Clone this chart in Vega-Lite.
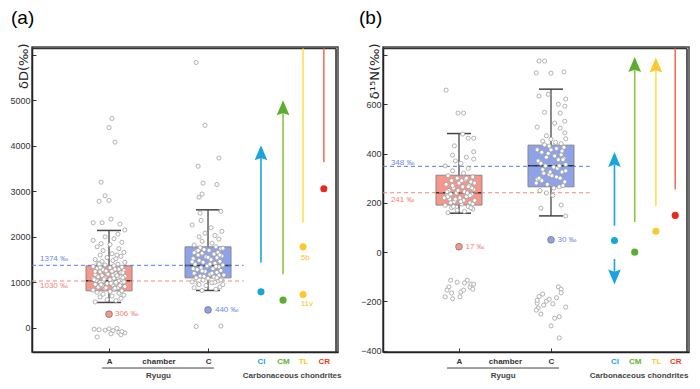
{
"$schema":"https://vega.github.io/schema/vega-lite/v6.json",
"padding":{"left":9,"top":8,"right":5,"bottom":5},
"spacing":15,
"config":{"view":{"stroke":"#444","strokeWidth":1.5},"style":{"cell":{"stroke":"#444","strokeWidth":1.5}}},
"datasets":{
"boxA":[{"g":"A","x":1,"lo":558,"q1":813,"med":1033,"q3":1363,"hi":2140},{"g":"C","x":2,"lo":822,"q1":1099,"med":1371,"q3":1780,"hi":2593}],
"meanA":[{"g":"A","v":1030},{"g":"C","v":1374}],
"specA":[{"g":"A","x":1,"y":301},{"g":"C","x":2,"y":395}],
"annA":[{"g":"C","x":0.303,"y":1519,"t":"1374 ‰"},{"g":"A","x":0.303,"y":920,"t":"1030 ‰"},{"g":"A","x":1.06,"y":304,"t":"306 ‰"},{"g":"C","x":2.07,"y":392,"t":"440 ‰"},{"g":"TL","x":2.936,"y":1535,"t":"5b"},{"g":"TL","x":2.936,"y":524,"t":"11v"}],
"carbA":[{"k":"CI","x":2.535,"lo":1437,"hi":3731},{"k":"CM","x":2.758,"lo":1180,"hi":4721},{"k":"TL","x":2.96,"lo":2316,"hi":6137},{"k":"CR","x":3.17,"lo":3640,"hi":6137}],
"headA":[{"k":"CI","x":2.535,"y":3731,"dir":"up"},{"k":"CM","x":2.758,"y":4721,"dir":"up"}],
"dotA":[{"k":"CI","x":2.535,"y":791},{"k":"CM","x":2.758,"y":609},{"k":"TL","x":2.96,"y":1780},{"k":"TL","x":2.96,"y":734},{"k":"CR","x":3.17,"y":3055}],
"botA":[{"x":1.5,"y":-1057,"t":"Ryugu"},{"x":2.85,"y":-1057,"t":"Carbonaceous chondrites"}],
"lineA":[{"x":0.93,"x2":2.06,"y":-882}],
"topA":[{"x":0.222,"x2":3.293,"y":6137}],
"rightA":[{"x":3.293,"y":-530,"y2":6137}],
"ptsA":[
{"x":0.86,"y":570},{"x":1.07,"y":600},{"x":0.98,"y":620},{"x":1.12,"y":650},{"x":0.91,"y":680},{"x":1.03,"y":700},{"x":1.15,"y":720},{"x":0.94,"y":740},{"x":1.10,"y":760},{"x":0.88,"y":780},
{"x":1.01,"y":800},{"x":1.13,"y":815},{"x":0.84,"y":830},{"x":1.05,"y":850},{"x":0.96,"y":860},{"x":1.09,"y":880},{"x":0.89,"y":895},{"x":1.16,"y":910},{"x":0.93,"y":925},{"x":1.04,"y":940},
{"x":0.86,"y":955},{"x":1.07,"y":965},{"x":0.98,"y":975},{"x":1.12,"y":990},{"x":0.91,"y":1000},{"x":1.03,"y":1010},{"x":1.15,"y":1020},{"x":0.94,"y":1030},{"x":1.10,"y":1040},{"x":0.88,"y":1050},
{"x":1.01,"y":1060},{"x":1.13,"y":1070},{"x":0.84,"y":1080},{"x":1.05,"y":1090},{"x":0.96,"y":1100},{"x":1.09,"y":1110},{"x":0.89,"y":1120},{"x":1.16,"y":1135},{"x":0.93,"y":1150},{"x":1.04,"y":1160},
{"x":0.86,"y":1175},{"x":1.07,"y":1190},{"x":0.98,"y":1200},{"x":1.12,"y":1215},{"x":0.91,"y":1230},{"x":1.03,"y":1245},{"x":1.15,"y":1260},{"x":0.94,"y":1275},{"x":1.10,"y":1290},{"x":0.88,"y":1305},
{"x":1.01,"y":1320},{"x":1.13,"y":1335},{"x":0.84,"y":1350},{"x":1.05,"y":1365},{"x":0.96,"y":1380},{"x":1.09,"y":1400},{"x":0.89,"y":1420},{"x":1.16,"y":1440},{"x":0.93,"y":1460},{"x":1.04,"y":1480},
{"x":0.86,"y":1500},{"x":1.07,"y":1520},{"x":0.98,"y":1545},{"x":1.12,"y":1570},{"x":0.91,"y":1600},{"x":1.03,"y":1630},{"x":1.15,"y":1660},{"x":0.94,"y":1700},{"x":1.10,"y":1740},{"x":0.88,"y":1780},
{"x":1.01,"y":1830},{"x":1.13,"y":1880},{"x":0.84,"y":1920},{"x":1.05,"y":1960},{"x":0.96,"y":2000},{"x":1.09,"y":2060},{"x":1.16,"y":2150},{"x":1.11,"y":2280},{"x":0.84,"y":2310},{"x":0.93,"y":2310},
{"x":1.02,"y":2390},{"x":0.90,"y":2780},{"x":1.00,"y":2800},{"x":0.96,"y":2900},{"x":0.92,"y":3200},{"x":1.06,"y":4080},{"x":1.00,"y":4400},{"x":1.03,"y":4600},
{"x":0.97,"y":880},{"x":1.11,"y":930},{"x":1.07,"y":1000},{"x":0.87,"y":1040},{"x":0.95,"y":1070},{"x":1.12,"y":1120},{"x":0.99,"y":1180},{"x":0.86,"y":1240},{"x":1.06,"y":1290},{"x":1.15,"y":1010},
{"x":0.92,"y":950},{"x":1.08,"y":1150},{"x":0.91,"y":1330},{"x":0.85,"y":1060},{"x":1.02,"y":980},{"x":1.14,"y":1210},{"x":1.06,"y":870},{"x":1.14,"y":1100},{"x":0.97,"y":1250},{"x":0.90,"y":1400},
{"x":1.08,"y":1600},{"x":0.92,"y":1850},
{"x":0.85,"y":-30},{"x":0.90,"y":-40},{"x":0.96,"y":-50},{"x":1.00,"y":-20},{"x":1.04,"y":-60},{"x":1.08,"y":-10},{"x":1.02,"y":-130},{"x":1.10,"y":-100},{"x":1.12,"y":-150},{"x":1.16,"y":-110},{"x":0.88,"y":-200},{"x":1.13,"y":-80},
{"x":1.88,"y":5830},{"x":1.97,"y":4450},{"x":2.11,"y":3730},{"x":1.90,"y":3550},{"x":1.95,"y":3180},{"x":2.09,"y":3150},{"x":1.94,"y":2940},{"x":1.91,"y":2870},{"x":1.92,"y":2520},{"x":1.93,"y":2360},{"x":1.84,"y":2260},{"x":2.13,"y":2560},{"x":1.88,"y":30},{"x":2.13,"y":40},
{"x":1.94,"y":820},{"x":2.08,"y":850},{"x":1.86,"y":880},{"x":2.12,"y":900},{"x":1.98,"y":930},{"x":2.15,"y":950},{"x":1.90,"y":970},{"x":2.04,"y":990},{"x":1.84,"y":1010},{"x":2.10,"y":1030},
{"x":1.95,"y":1050},{"x":2.14,"y":1070},{"x":2.00,"y":1090},{"x":1.88,"y":1100},{"x":2.06,"y":1120},{"x":1.92,"y":1140},{"x":2.16,"y":1160},{"x":2.02,"y":1180},{"x":1.86,"y":1200},{"x":2.09,"y":1220},
{"x":1.97,"y":1240},{"x":2.13,"y":1260},{"x":1.89,"y":1280},{"x":2.05,"y":1300},{"x":1.93,"y":1320},{"x":2.11,"y":1340},{"x":1.99,"y":1360},{"x":2.15,"y":1380},{"x":1.87,"y":1400},{"x":2.07,"y":1420},
{"x":1.95,"y":1440},{"x":2.12,"y":1460},{"x":1.91,"y":1480},{"x":2.03,"y":1500},{"x":1.85,"y":1520},{"x":2.09,"y":1540},{"x":1.98,"y":1560},{"x":2.14,"y":1580},{"x":1.90,"y":1600},{"x":2.06,"y":1620},
{"x":1.94,"y":1640},{"x":2.10,"y":1660},{"x":1.88,"y":1680},{"x":2.01,"y":1700},{"x":1.96,"y":1720},{"x":2.13,"y":1740},{"x":1.92,"y":1760},{"x":2.08,"y":1780},{"x":1.86,"y":1820},{"x":2.04,"y":1860},
{"x":1.94,"y":1900},{"x":2.11,"y":1950},{"x":1.91,"y":2000},{"x":2.07,"y":2030},{"x":1.97,"y":2080},{"x":2.14,"y":2120},{"x":2.03,"y":2200},{"x":2.11,"y":1150},{"x":1.94,"y":1250},{"x":2.08,"y":1350},
{"x":1.84,"y":1450},{"x":2.00,"y":1550},{"x":2.13,"y":1050},{"x":1.91,"y":950},{"x":1.86,"y":1650},{"x":2.15,"y":1750},{"x":2.04,"y":1200},{"x":1.85,"y":1300},{"x":2.07,"y":1000},{"x":2.09,"y":1100},
{"x":2.02,"y":1400},{"x":2.12,"y":1600},{"x":1.96,"y":1130},{"x":1.90,"y":1700}
],
"boxB":[{"g":"A","x":1,"lo":158,"q1":191,"med":241,"q3":312,"hi":481},{"g":"C","x":2,"lo":147,"q1":265,"med":350,"q3":434,"hi":661}],
"meanB":[{"g":"A","v":241},{"g":"C","v":348}],
"specB":[{"g":"A","x":1,"y":22},{"g":"C","x":2,"y":50}],
"annB":[{"g":"C","x":0.26,"y":362,"t":"348 ‰"},{"g":"A","x":0.26,"y":212,"t":"241 ‰"},{"g":"A","x":1.07,"y":21,"t":"17 ‰"},{"g":"C","x":2.07,"y":49,"t":"30 ‰"}],
"carbB":[{"k":"CI","x":2.69,"lo":107,"hi":355},{"k":"CI","x":2.69,"lo":-80,"hi":-28},{"k":"CM","x":2.91,"lo":122,"hi":740},{"k":"TL","x":3.14,"lo":187,"hi":738},{"k":"CR","x":3.35,"lo":254,"hi":826}],
"headB":[{"k":"CI","x":2.69,"y":355,"dir":"up"},{"k":"CI","x":2.69,"y":-80,"dir":"down"},{"k":"CM","x":2.91,"y":740,"dir":"up"},{"k":"TL","x":3.14,"y":738,"dir":"up"}],
"dotB":[{"k":"CI","x":2.69,"y":47},{"k":"CM","x":2.91,"y":0},{"k":"TL","x":3.14,"y":85},{"k":"CR","x":3.35,"y":149}],
"botB":[{"x":1.48,"y":-502,"t":"Ryugu"},{"x":2.957,"y":-502,"t":"Carbonaceous chondrites"}],
"lineB":[{"x":0.87,"x2":2.087,"y":-470}],
"topB":[{"x":0.174,"x2":3.478,"y":826}],
"rightB":[{"x":3.478,"y":-405,"y2":826}],
"ptsB":[
{"x":0.86,"y":657},{"x":0.99,"y":564},{"x":1.05,"y":564},{"x":1.04,"y":479},{"x":1.10,"y":462},{"x":1.16,"y":462},{"x":0.95,"y":431},{"x":1.16,"y":407},{"x":0.93,"y":393},{"x":1.16,"y":377},
{"x":0.88,"y":160},{"x":1.06,"y":165},{"x":0.98,"y":170},{"x":1.15,"y":175},{"x":0.92,"y":180},{"x":1.10,"y":185},{"x":0.85,"y":190},{"x":1.03,"y":195},{"x":1.12,"y":200},{"x":0.95,"y":205},
{"x":1.17,"y":210},{"x":0.90,"y":215},{"x":1.01,"y":220},{"x":1.08,"y":225},{"x":0.87,"y":230},{"x":1.14,"y":235},{"x":0.97,"y":240},{"x":1.06,"y":245},{"x":0.89,"y":250},{"x":1.16,"y":255},
{"x":0.94,"y":260},{"x":1.04,"y":265},{"x":1.11,"y":270},{"x":0.86,"y":275},{"x":1.00,"y":280},{"x":1.13,"y":285},{"x":0.92,"y":290},{"x":1.07,"y":295},{"x":0.98,"y":300},{"x":1.15,"y":305},
{"x":0.88,"y":310},{"x":1.05,"y":320},{"x":0.93,"y":330},{"x":1.10,"y":340},{"x":0.85,"y":350},{"x":1.02,"y":360},{"x":0.96,"y":370},{"x":1.08,"y":385},{"x":0.91,"y":200},{"x":1.05,"y":210},
{"x":0.84,"y":220},{"x":1.12,"y":230},{"x":1.09,"y":240},{"x":0.99,"y":250},{"x":1.14,"y":260},{"x":0.93,"y":270},{"x":1.17,"y":280},{"x":1.03,"y":290},{"x":0.96,"y":215},{"x":1.15,"y":195},
{"x":0.94,"y":185},{"x":0.88,"y":225},{"x":0.87,"y":245},{"x":1.10,"y":265},{"x":1.08,"y":300},{"x":1.13,"y":180},{"x":1.02,"y":205},{"x":0.91,"y":235},
{"x":0.91,"y":-114},{"x":0.89,"y":-141},{"x":0.92,"y":-166},{"x":0.93,"y":-189},{"x":0.85,"y":-181},{"x":0.98,"y":-122},{"x":1.02,"y":-162},{"x":1.05,"y":-154},{"x":1.09,"y":-114},{"x":1.12,"y":-142},
{"x":1.13,"y":-130},{"x":1.16,"y":-130},{"x":1.15,"y":-150},{"x":1.01,"y":-181},{"x":0.87,"y":-154},{"x":1.06,"y":-125},
{"x":2.16,"y":147},{"x":1.89,"y":178},{"x":2.11,"y":191},{"x":2.02,"y":230},{"x":1.88,"y":250},{"x":2.09,"y":265},{"x":1.96,"y":275},{"x":2.15,"y":285},{"x":1.85,"y":295},{"x":2.06,"y":305},
{"x":1.98,"y":315},{"x":2.12,"y":325},{"x":1.91,"y":335},{"x":2.03,"y":345},{"x":2.16,"y":355},{"x":1.87,"y":365},{"x":2.08,"y":375},{"x":1.95,"y":385},{"x":2.11,"y":395},{"x":1.90,"y":405},
{"x":2.00,"y":415},{"x":2.14,"y":425},{"x":1.93,"y":435},{"x":2.05,"y":445},{"x":2.00,"y":458},{"x":1.95,"y":472},{"x":2.15,"y":484},{"x":2.10,"y":503},{"x":1.85,"y":507},{"x":2.04,"y":523},
{"x":2.15,"y":531},{"x":2.10,"y":564},{"x":1.93,"y":567},{"x":2.15,"y":592},{"x":2.08,"y":600},{"x":1.87,"y":633},{"x":1.97,"y":640},{"x":2.16,"y":621},{"x":1.84,"y":727},{"x":2.00,"y":726},
{"x":2.14,"y":731},{"x":1.87,"y":775},{"x":1.93,"y":775},
{"x":2.13,"y":270},{"x":1.90,"y":290},{"x":2.01,"y":310},{"x":2.16,"y":330},{"x":1.94,"y":350},{"x":1.86,"y":370},{"x":2.04,"y":390},{"x":2.12,"y":410},{"x":1.98,"y":430},{"x":1.84,"y":280},
{"x":2.10,"y":300},{"x":1.92,"y":320},{"x":2.07,"y":340},{"x":1.89,"y":360},{"x":2.14,"y":380},{"x":1.97,"y":400},{"x":2.06,"y":420},{"x":2.11,"y":440},{"x":2.03,"y":260},{"x":1.95,"y":240},
{"x":2.09,"y":350},{"x":1.87,"y":300},{"x":1.99,"y":325},{"x":2.13,"y":375},{"x":1.91,"y":450},{"x":2.16,"y":460},{"x":1.85,"y":415},
{"x":1.85,"y":-207},{"x":2.09,"y":-348},{"x":2.00,"y":-299},{"x":2.04,"y":-268},{"x":2.09,"y":-262},{"x":2.16,"y":-223},{"x":2.08,"y":-141},{"x":2.11,"y":-150},{"x":2.11,"y":-165},{"x":1.91,"y":-170},
{"x":1.85,"y":-195},{"x":1.86,"y":-227},{"x":1.89,"y":-251},{"x":1.92,"y":-215},{"x":1.95,"y":-199},{"x":1.98,"y":-191},{"x":1.87,"y":-180},{"x":1.84,"y":-235},{"x":2.02,"y":-210},{"x":2.06,"y":-185}
]
},
"hconcat":[
{
"width":306,"height":305,
"view":{"stroke":"#444","strokeWidth":1.5},
"title":{"text":"(a)","anchor":"start","frame":"group","dx":-21,"offset":15,"fontSize":19,"fontWeight":"normal","font":"Liberation Sans","color":"#000"},
"layer":[
{"data":{"name":"boxA"},"mark":{"type":"rule","color":"#555","strokeWidth":1.4},
"encoding":{
"x":{"field":"x","type":"quantitative","scale":{"domain":[0.222,3.313],"nice":false,"zero":false,"padding":0},
"axis":{"title":null,"values":[1,1.5,2,2.535,2.758,2.96,3.17],"labelExpr":"datum.value==1?'A':datum.value==2?'C':datum.value==1.5?'chamber':datum.value<2.6?'CI':datum.value<2.85?'CM':datum.value<3.05?'TL':'CR'",
"tickColor":{"condition":{"test":"datum.value==1||datum.value==2","value":"#333"},"value":"transparent"},
"labelColor":{"condition":[{"test":"datum.value>2.5&&datum.value<2.6","value":"#1aa3df"},{"test":"datum.value>2.7&&datum.value<2.85","value":"#62b235"},{"test":"datum.value>2.9&&datum.value<3.05","value":"#fdc82f"},{"test":"datum.value>3.1","value":"#ef3b24"}],"value":"#333"},
"grid":false,"domain":true,"domainColor":"#222","domainWidth":1.5,"tickSize":-4,"labelPadding":9,"labelFontWeight":"bold","labelFontSize":8,"labelFont":"Liberation Sans","labelFlush":false,"labelOverlap":false}},
"y":{"field":"lo","type":"quantitative","scale":{"domain":[-530,6170],"nice":false,"zero":false,"padding":0},
"axis":{"title":"δD(‰)","values":[0,1000,2000,3000,4000,5000,6000],"format":"d","labelExpr":"datum.value==6000?'':datum.label","grid":false,"domain":true,"domainColor":"#222","domainWidth":1.5,"tickSize":-4,"tickColor":"#333","labelPadding":6,"labelFontSize":9,"labelFont":"Liberation Sans","labelColor":"#333",
"titleAnchor":"end","titleAngle":-90,"titleX":-2,"titleY":-4,"titleAlign":"right","titleBaseline":"bottom","titleFont":"DejaVu Sans","titleFontSize":13,"titleFontWeight":"normal","titleColor":"#222"}},
"y2":{"field":"hi"}}},
{"data":{"name":"topA"},"mark":{"type":"rule","color":"#333","strokeWidth":1.6},
"encoding":{"x":{"field":"x","type":"quantitative"},"x2":{"field":"x2"},"y":{"field":"y","type":"quantitative"}}},
{"data":{"name":"rightA"},"mark":{"type":"rule","color":"#333","strokeWidth":1.6},
"encoding":{"x":{"field":"x","type":"quantitative"},"y":{"field":"y","type":"quantitative"},"y2":{"field":"y2"}}},
{"data":{"name":"boxA"},"mark":{"type":"tick","orient":"horizontal","size":24,"thickness":1.5,"color":"#444","opacity":1},
"encoding":{"x":{"field":"x","type":"quantitative"},"y":{"field":"lo","type":"quantitative"}}},
{"data":{"name":"boxA"},"mark":{"type":"tick","orient":"horizontal","size":24,"thickness":1.5,"color":"#444","opacity":1},
"encoding":{"x":{"field":"x","type":"quantitative"},"y":{"field":"hi","type":"quantitative"}}},
{"data":{"name":"boxA"},"mark":{"type":"bar","width":46,"stroke":"#888","strokeWidth":1,"opacity":1},
"encoding":{"x":{"field":"x","type":"quantitative"},"y":{"field":"q1","type":"quantitative"},"y2":{"field":"q3"},
"fill":{"field":"g","type":"nominal","legend":null,"scale":{"domain":["A","C","CI","CM","TL","CR"],"range":["#f7968a","#8ea2e8","#1aa3df","#5aae2e","#fdc82f","#e8291c"]}}}},
{"data":{"name":"boxA"},"mark":{"type":"tick","orient":"horizontal","size":46,"thickness":1.5,"color":"#333","opacity":1},
"encoding":{"x":{"field":"x","type":"quantitative"},"y":{"field":"med","type":"quantitative"}}},
{"data":{"name":"meanA"},"mark":{"type":"rule","strokeDash":[4,3],"strokeWidth":1},
"encoding":{"x":{"datum":0.222,"type":"quantitative"},"x2":{"datum":2.36},"y":{"field":"v","type":"quantitative"},
"stroke":{"field":"g","type":"nominal","legend":null,"scale":{"domain":["A","C","CI","CM","TL","CR"],"range":["#f58a7e","#5a78ee","#1aa3df","#8cc63f","#ffe04a","#f4735f"]}}}},
{"data":{"name":"ptsA"},"mark":{"type":"point","shape":"circle","filled":true,"fill":"white","stroke":"#a0a0a0","strokeWidth":0.8,"size":17,"opacity":1},
"encoding":{"x":{"field":"x","type":"quantitative"},"y":{"field":"y","type":"quantitative"}}},
{"data":{"name":"specA"},"mark":{"type":"point","shape":"circle","filled":true,"stroke":"#777","strokeWidth":0.8,"size":45,"opacity":1},
"encoding":{"x":{"field":"x","type":"quantitative"},"y":{"field":"y","type":"quantitative"},"fill":{"field":"g","type":"nominal","legend":null}}},
{"data":{"name":"annA"},"mark":{"type":"text","align":"left","baseline":"middle","font":"Liberation Sans","fontSize":8},
"encoding":{"x":{"field":"x","type":"quantitative"},"y":{"field":"y","type":"quantitative"},"text":{"field":"t"},
"color":{"field":"g","type":"nominal","legend":null,"scale":{"domain":["A","C","TL"],"range":["#f4837a","#6d87ee","#f9c22b"]}}}},
{"data":{"name":"carbA"},"mark":{"type":"rule","strokeWidth":1.6},
"encoding":{"x":{"field":"x","type":"quantitative"},"y":{"field":"lo","type":"quantitative"},"y2":{"field":"hi"},"stroke":{"field":"k","type":"nominal","legend":null}}},
{"data":{"name":"headA"},"mark":{"type":"point","filled":true,"strokeWidth":0,"size":645,"opacity":1},
"encoding":{"x":{"field":"x","type":"quantitative"},"y":{"field":"y","type":"quantitative"},"fill":{"field":"k","type":"nominal","legend":null},
"shape":{"field":"dir","type":"nominal","legend":null,"scale":{"domain":["up","down"],"range":["M0,-1L0.5,0.18L0,0L-0.5,0.18Z","M0,1L0.5,-0.18L0,0L-0.5,-0.18Z"]}}}},
{"data":{"name":"dotA"},"mark":{"type":"point","shape":"circle","filled":true,"strokeWidth":0,"size":50,"opacity":1},
"encoding":{"x":{"field":"x","type":"quantitative"},"y":{"field":"y","type":"quantitative"},"fill":{"field":"k","type":"nominal","legend":null}}},
{"data":{"name":"botA"},"mark":{"type":"text","align":"center","baseline":"middle","font":"Liberation Sans","fontSize":8,"fontWeight":"bold","color":"#444"},
"encoding":{"x":{"field":"x","type":"quantitative"},"y":{"field":"y","type":"quantitative"},"text":{"field":"t"}}},
{"data":{"name":"lineA"},"mark":{"type":"rule","color":"#444","strokeWidth":1},
"encoding":{"x":{"field":"x","type":"quantitative"},"x2":{"field":"x2"},"y":{"field":"y","type":"quantitative"}}}
]
},
{
"width":306,"height":305,
"view":{"stroke":"#444","strokeWidth":1.5},
"title":{"text":"(b)","anchor":"start","frame":"group","dx":-24,"offset":15,"fontSize":19,"fontWeight":"normal","font":"Liberation Sans","color":"#000"},
"layer":[
{"data":{"name":"boxB"},"mark":{"type":"rule","color":"#555","strokeWidth":1.4},
"encoding":{
"x":{"field":"x","type":"quantitative","scale":{"domain":[0.174,3.5],"nice":false,"zero":false,"padding":0},
"axis":{"title":null,"values":[1,1.5,2,2.69,2.91,3.14,3.35],"labelExpr":"datum.value==1?'A':datum.value==2?'C':datum.value==1.5?'chamber':datum.value<2.8?'CI':datum.value<3.03?'CM':datum.value<3.25?'TL':'CR'",
"tickColor":{"condition":{"test":"datum.value==1||datum.value==2","value":"#333"},"value":"transparent"},
"labelColor":{"condition":[{"test":"datum.value>2.6&&datum.value<2.8","value":"#1aa3df"},{"test":"datum.value>2.85&&datum.value<3.03","value":"#62b235"},{"test":"datum.value>3.05&&datum.value<3.25","value":"#fdc82f"},{"test":"datum.value>3.3","value":"#ef3b24"}],"value":"#333"},
"grid":false,"domain":true,"domainColor":"#222","domainWidth":1.5,"tickSize":-4,"labelPadding":9,"labelFontWeight":"bold","labelFontSize":8,"labelFont":"Liberation Sans","labelFlush":false,"labelOverlap":false}},
"y":{"field":"lo","type":"quantitative","scale":{"domain":[-405,832],"nice":false,"zero":false,"padding":0},
"axis":{"title":"δ¹⁵N(‰)","values":[-400,-200,0,200,400,600,800],"format":"d","labelExpr":"datum.value==800?'':datum.label","grid":false,"domain":true,"domainColor":"#222","domainWidth":1.5,"tickSize":-4,"tickColor":"#333","labelPadding":6,"labelFontSize":9,"labelFont":"Liberation Sans","labelColor":"#333",
"titleAnchor":"end","titleAngle":-90,"titleX":-2,"titleY":-4,"titleAlign":"right","titleBaseline":"bottom","titleFont":"DejaVu Sans","titleFontSize":13,"titleFontWeight":"normal","titleColor":"#222"}},
"y2":{"field":"hi"}}},
{"data":{"name":"topB"},"mark":{"type":"rule","color":"#333","strokeWidth":1.6},
"encoding":{"x":{"field":"x","type":"quantitative"},"x2":{"field":"x2"},"y":{"field":"y","type":"quantitative"}}},
{"data":{"name":"rightB"},"mark":{"type":"rule","color":"#333","strokeWidth":1.6},
"encoding":{"x":{"field":"x","type":"quantitative"},"y":{"field":"y","type":"quantitative"},"y2":{"field":"y2"}}},
{"data":{"name":"boxB"},"mark":{"type":"tick","orient":"horizontal","size":24,"thickness":1.5,"color":"#444","opacity":1},
"encoding":{"x":{"field":"x","type":"quantitative"},"y":{"field":"lo","type":"quantitative"}}},
{"data":{"name":"boxB"},"mark":{"type":"tick","orient":"horizontal","size":24,"thickness":1.5,"color":"#444","opacity":1},
"encoding":{"x":{"field":"x","type":"quantitative"},"y":{"field":"hi","type":"quantitative"}}},
{"data":{"name":"boxB"},"mark":{"type":"bar","width":46,"stroke":"#888","strokeWidth":1,"opacity":1},
"encoding":{"x":{"field":"x","type":"quantitative"},"y":{"field":"q1","type":"quantitative"},"y2":{"field":"q3"},
"fill":{"field":"g","type":"nominal","legend":null,"scale":{"domain":["A","C","CI","CM","TL","CR"],"range":["#f7968a","#8ea2e8","#1aa3df","#5aae2e","#fdc82f","#e8291c"]}}}},
{"data":{"name":"boxB"},"mark":{"type":"tick","orient":"horizontal","size":46,"thickness":1.5,"color":"#333","opacity":1},
"encoding":{"x":{"field":"x","type":"quantitative"},"y":{"field":"med","type":"quantitative"}}},
{"data":{"name":"meanB"},"mark":{"type":"rule","strokeDash":[4,3],"strokeWidth":1},
"encoding":{"x":{"datum":0.174,"type":"quantitative"},"x2":{"datum":2.42},"y":{"field":"v","type":"quantitative"},
"stroke":{"field":"g","type":"nominal","legend":null,"scale":{"domain":["A","C","CI","CM","TL","CR"],"range":["#f58a7e","#5a78ee","#1aa3df","#8cc63f","#ffe04a","#f4735f"]}}}},
{"data":{"name":"ptsB"},"mark":{"type":"point","shape":"circle","filled":true,"fill":"white","stroke":"#a0a0a0","strokeWidth":0.8,"size":17,"opacity":1},
"encoding":{"x":{"field":"x","type":"quantitative"},"y":{"field":"y","type":"quantitative"}}},
{"data":{"name":"specB"},"mark":{"type":"point","shape":"circle","filled":true,"stroke":"#777","strokeWidth":0.8,"size":45,"opacity":1},
"encoding":{"x":{"field":"x","type":"quantitative"},"y":{"field":"y","type":"quantitative"},"fill":{"field":"g","type":"nominal","legend":null}}},
{"data":{"name":"annB"},"mark":{"type":"text","align":"left","baseline":"middle","font":"Liberation Sans","fontSize":8},
"encoding":{"x":{"field":"x","type":"quantitative"},"y":{"field":"y","type":"quantitative"},"text":{"field":"t"},
"color":{"field":"g","type":"nominal","legend":null,"scale":{"domain":["A","C","TL"],"range":["#f4837a","#6d87ee","#f9c22b"]}}}},
{"data":{"name":"carbB"},"mark":{"type":"rule","strokeWidth":1.6},
"encoding":{"x":{"field":"x","type":"quantitative"},"y":{"field":"lo","type":"quantitative"},"y2":{"field":"hi"},"stroke":{"field":"k","type":"nominal","legend":null}}},
{"data":{"name":"headB"},"mark":{"type":"point","filled":true,"strokeWidth":0,"size":645,"opacity":1},
"encoding":{"x":{"field":"x","type":"quantitative"},"y":{"field":"y","type":"quantitative"},"fill":{"field":"k","type":"nominal","legend":null},
"shape":{"field":"dir","type":"nominal","legend":null,"scale":{"domain":["up","down"],"range":["M0,-1L0.5,0.18L0,0L-0.5,0.18Z","M0,1L0.5,-0.18L0,0L-0.5,-0.18Z"]}}}},
{"data":{"name":"dotB"},"mark":{"type":"point","shape":"circle","filled":true,"strokeWidth":0,"size":50,"opacity":1},
"encoding":{"x":{"field":"x","type":"quantitative"},"y":{"field":"y","type":"quantitative"},"fill":{"field":"k","type":"nominal","legend":null}}},
{"data":{"name":"botB"},"mark":{"type":"text","align":"center","baseline":"middle","font":"Liberation Sans","fontSize":8,"fontWeight":"bold","color":"#444"},
"encoding":{"x":{"field":"x","type":"quantitative"},"y":{"field":"y","type":"quantitative"},"text":{"field":"t"}}},
{"data":{"name":"lineB"},"mark":{"type":"rule","color":"#444","strokeWidth":1},
"encoding":{"x":{"field":"x","type":"quantitative"},"x2":{"field":"x2"},"y":{"field":"y","type":"quantitative"}}}
]
}
]
}
